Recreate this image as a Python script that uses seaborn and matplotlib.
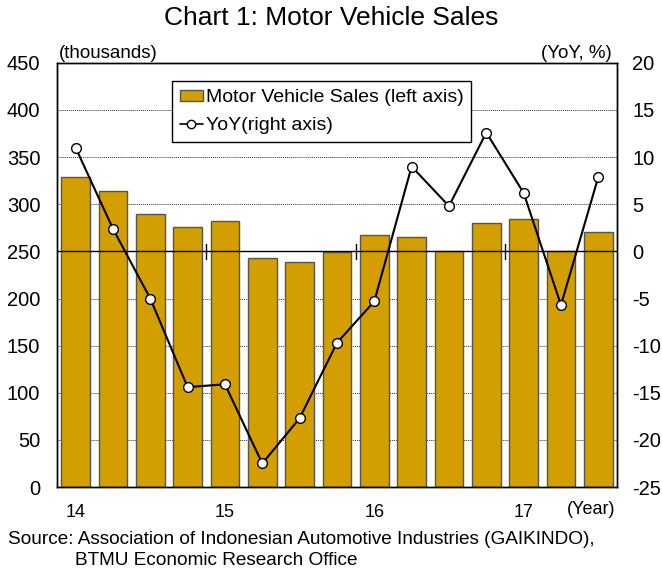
import numpy as np
import pandas as pd
import matplotlib
matplotlib.use("Agg")
import matplotlib.pyplot as plt
import seaborn as sns
from matplotlib.patches import Patch
from matplotlib.lines import Line2D

# quarterly data, 2014Q1 - 2017Q3
quarters = ["14Q1", "14Q2", "14Q3", "14Q4", "15Q1", "15Q2", "15Q3", "15Q4",
            "16Q1", "16Q2", "16Q3", "16Q4", "17Q1", "17Q2", "17Q3"]
sales = [329, 314, 290, 276, 282, 243, 239, 249, 267, 265, 250, 280, 284, 250, 271]
yoy = [11.0, 2.4, -5.0, -14.4, -14.1, -22.5, -17.7, -9.7, -5.3, 9.0, 4.8, 12.6, 6.2, -5.7, 7.9]
year_labels = ["14", "15", "16", "17"]

sns.set_style("white")
plt.rcParams['font.family'] = ['Liberation Sans', 'DejaVu Sans']
plt.rcParams['axes.unicode_minus'] = False
for k in ['text.color', 'xtick.color', 'ytick.color', 'axes.labelcolor']:
    plt.rcParams[k] = 'black'

bar_color = "#D29E00"

df = pd.DataFrame({"quarter": quarters, "sales": sales, "yoy": yoy})

fig = plt.figure(figsize=(6.62, 5.71), dpi=100)
ax = fig.add_axes([0.086, 0.147, 0.846, 0.743])

sns.barplot(data=df, x="quarter", y="sales", color=bar_color, width=0.77,
            edgecolor="#555555", linewidth=1.0, saturation=1, ax=ax, zorder=2)
ax.set_ylim(0, 450)
ax.set_yticks(range(0, 451, 50))
ax.set_xlim(-0.5, len(quarters) - 0.5)
ax.yaxis.grid(True, linestyle=(0, (1, 1)), color="#333333", linewidth=0.7, zorder=0)
ax.set_axisbelow(True)
ax.set_xlabel("")
ax.set_ylabel("")
ax.set_xticks([0, 4, 8, 12])
ax.set_xticklabels(year_labels)
ax.tick_params(axis="x", length=0, pad=12, labelsize=13)
ax.tick_params(axis="y", length=0, pad=12, labelsize=14.5)

ax2 = ax.twinx()
sns.lineplot(x=np.arange(len(quarters)), y=yoy, ax=ax2, color="black", linewidth=1.5,
             marker="o", markersize=7, markerfacecolor="white", markeredgecolor="black",
             markeredgewidth=1.0, zorder=5)
ax2.set_ylim(-25, 20)
ax2.set_yticks(range(-25, 21, 5))
ax2.tick_params(axis="y", length=0, pad=11, labelsize=14.5)
ax2.axhline(0, color="black", linewidth=1.0, zorder=3)
for xb in [3.5, 7.5, 11.5]:
    ax2.plot([xb, xb], [-0.8, 0.8], color="black", linewidth=1.0, zorder=3)

for a in (ax, ax2):
    for s in a.spines.values():
        s.set_color("black")
        s.set_linewidth(1.0)

ax.text(0.998, -0.054, "(Year)", transform=ax.transAxes, ha="right", va="center", fontsize=13)
ax.text(0.003, 1.003, "(thousands)", transform=ax.transAxes, ha="left", va="bottom", fontsize=13.5)
ax.text(0.991, 1.003, "(YoY, %)", transform=ax.transAxes, ha="right", va="bottom", fontsize=13.5)

handles = [Patch(facecolor=bar_color, edgecolor="#555555"),
           Line2D([0], [0], color="black", marker="o", markerfacecolor="white",
                  markeredgecolor="black", markersize=6, linewidth=1.2)]
leg = ax2.legend(handles, ["Motor Vehicle Sales (left axis)", "YoY(right axis)"],
                 loc="upper left", bbox_to_anchor=(0.205, 0.956), fontsize=14,
                 frameon=True, fancybox=False, framealpha=1, edgecolor="black",
                 handlelength=1.2, handleheight=0.5, handletextpad=0.15, borderpad=0.4,
                 labelspacing=0.55, borderaxespad=0)
leg.get_frame().set_linewidth(1.0)
leg.set_zorder(10)

fig.suptitle("Chart 1: Motor Vehicle Sales", y=0.99, fontsize=19)
fig.text(0.012, 0.056, "Source: Association of Indonesian Automotive Industries (GAIKINDO),",
         fontsize=13.7, va="center")
fig.text(0.113, 0.018, "BTMU Economic Research Office", fontsize=13.7, va="center")

fig.savefig("out.png", dpi=100)
